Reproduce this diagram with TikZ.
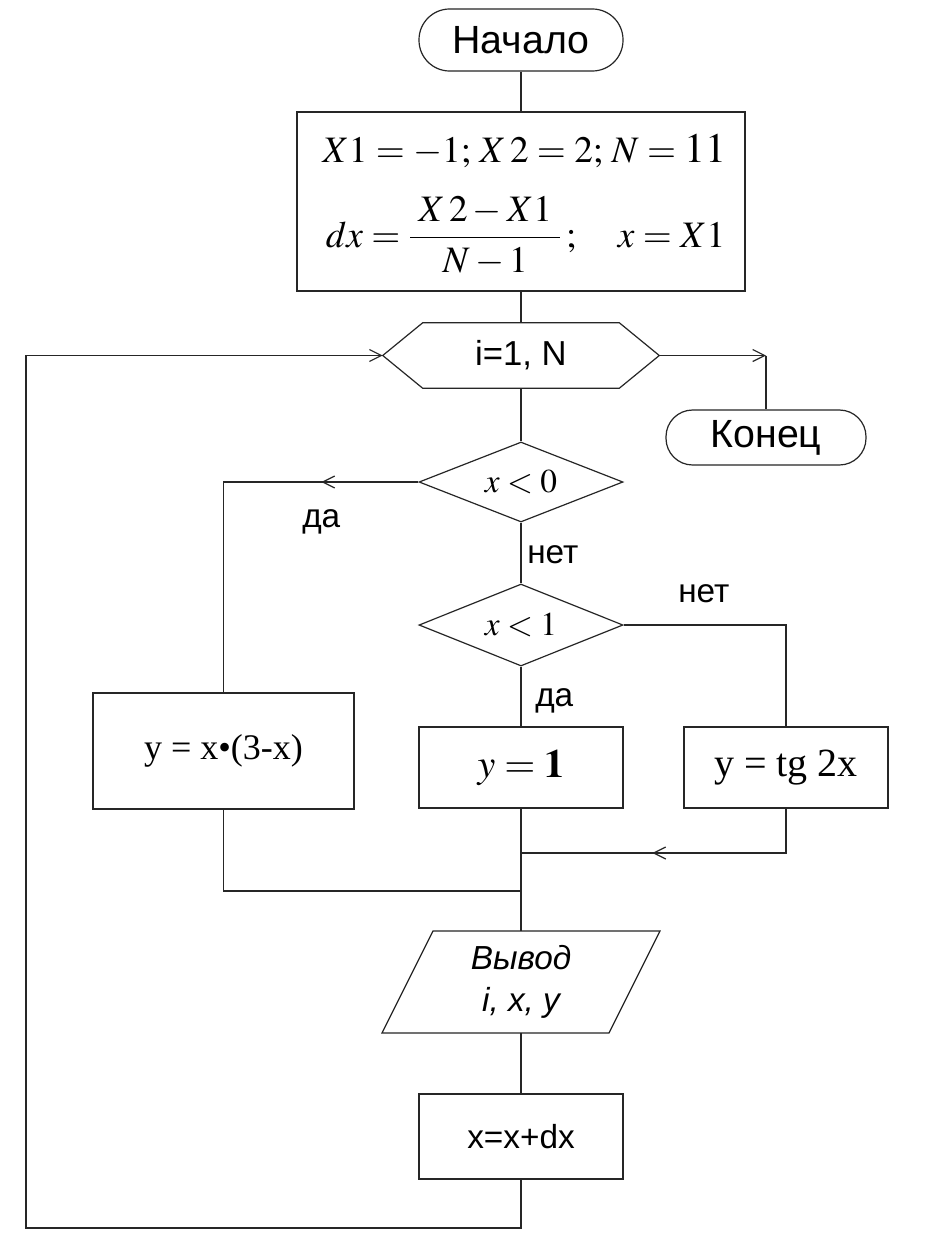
\documentclass[tikz,border=0pt]{standalone}
\usepackage{mathptmx}
\usepackage{fontspec}
\setmainfont{Liberation Serif}
\newfontfamily\arialfont{Liberation Sans}
\usetikzlibrary{arrows.meta,decorations.markings,shapes.geometric,calc}
\tikzset{
  line/.style={draw=black!85, line width=0.9pt},
  box/.style={line, rectangle, inner sep=0pt},
  term/.style={box, rounded corners=#1},
  dia/.style={line, diamond, inner sep=0pt, aspect=2.5},
  tipstyle/.tip={Straight Barb[length=9pt,width=9pt]},
  arr/.style={-tipstyle},
  midarr/.style={postaction={decorate}, decoration={markings, mark=at position #1 with {\arrow{tipstyle}}}},
  lbl/.style={inner sep=0pt, anchor=base west, font=\arialfont\fontsize{25}{30}\selectfont},
}
\begin{document}
\begin{tikzpicture}[x=0.75pt,y=-0.75pt]
\fill[white] (0,0) rectangle (929,1260);
\useasboundingbox (0,0) rectangle (929,1260);

% start
\node[term=23pt, minimum width=153pt, minimum height=46.5pt, font=\arialfont\fontsize{29.5}{34}\selectfont] (start) at (521,40) {Начало};

% init
\node[box, minimum width=336pt, minimum height=134.25pt] (init) at (521,201.5) {};
\node[anchor=base, inner sep=0pt, font=\fontsize{28}{34}\selectfont] (initA) at (524.5,162) {$X1=-1;\,X\,2=2;\,N={}$\fontsize{31.5}{36}\selectfont$11$};
\node[anchor=base, inner sep=0pt, font=\fontsize{28}{34}\selectfont] (initB) at (525.5,247) {$dx={\displaystyle\frac{\;X\,2-X1\;}{N-1}}\,;\quad x=X1$};

% loop hexagon
\node[inner sep=0pt, minimum width=207pt, minimum height=48.75pt, font=\arialfont\fontsize{26}{31}\selectfont] (loop) at (521,355.5) {i=1, N};
\draw[line] (loop.west) -- ([xshift=30pt]loop.north west) -- ([xshift=-30pt]loop.north east) -- (loop.east) -- ([xshift=-30pt]loop.south east) -- ([xshift=30pt]loop.south west) -- cycle;

% end
\node[term=20pt, minimum width=150pt, minimum height=41.25pt, font=\arialfont\fontsize{29.5}{34}\selectfont] (end) at (766,437.5) {Конец};

% decisions
\node[dia, minimum width=153pt, minimum height=60pt, font=\fontsize{25}{29}\selectfont] (d1) at (521,482) {$x<0$};
\node[dia, minimum width=153pt, minimum height=61.5pt, font=\fontsize{25}{29}\selectfont] (d2) at (521,625) {$x<1$};

% process boxes
\node[box, minimum width=195.75pt, minimum height=87pt, font=\fontsize{27}{32}\selectfont] (b1) at (223.5,751) {y = x•(3-x)};
\node[box, minimum width=153pt, minimum height=60.75pt, font=\fontsize{30}{34}\selectfont] (b2) at (521,767.5) {$y=\mathbf{1}$};
\node[box, minimum width=153pt, minimum height=60.75pt, font=\fontsize{30}{34}\selectfont] (b3) at (786,767.5) {y = tg 2x};

% output parallelogram
\node[inner sep=0pt, minimum height=76.5pt, align=center, font=\arialfont\itshape\fontsize{25}{31.5}\selectfont] (out) at (521,982) {Вывод\\i, x, y};
\draw[line] (433,931) -- (660,931) -- (609,1033) -- (382,1033) -- cycle;

% increment
\node[box, minimum width=153pt, minimum height=63.75pt, font=\arialfont\fontsize{25}{30}\selectfont] (inc) at (521,1136.5) {x=x+dx};

% labels
\node[lbl] (yes1) at (302,527) {да};
\node[lbl] (no1) at (527,563) {нет};
\node[lbl] (no2) at (678,602) {нет};
\node[lbl] (yes2) at (535,706) {да};

% coordinates
\coordinate (m1) at (521,853);
\coordinate (m2) at (521,891);
\coordinate (lb) at (26,1228);

% connectors
\draw[line] (start.south) -- (init.north);
\draw[line] (init.south) -- (loop.north);
\draw[line, arr] (loop.east) -- (loop.east -| end.north);
\draw[line] (loop.east -| end.north) -- (end.north);
\draw[line] (loop.south) -- (d1.north);
\draw[line, midarr=72.75pt] (d1.west) -| (b1.north);
\draw[line] (d1.south) -- (d2.north);
\draw[line] (d2.south) -- (b2.north);
\draw[line] (d2.east) -| (b3.north);
\draw[line, midarr=133.5pt] (b3.south) |- (m1);
\draw[line] (b1.south) |- (m2);
\draw[line] (b2.south) -- (out.north);
\draw[line] (out.south) -- (inc.north);
\draw[line, arr] (inc.south) |- (lb) -- (lb |- loop.west) -- (loop.west);
\end{tikzpicture}
\end{document}
